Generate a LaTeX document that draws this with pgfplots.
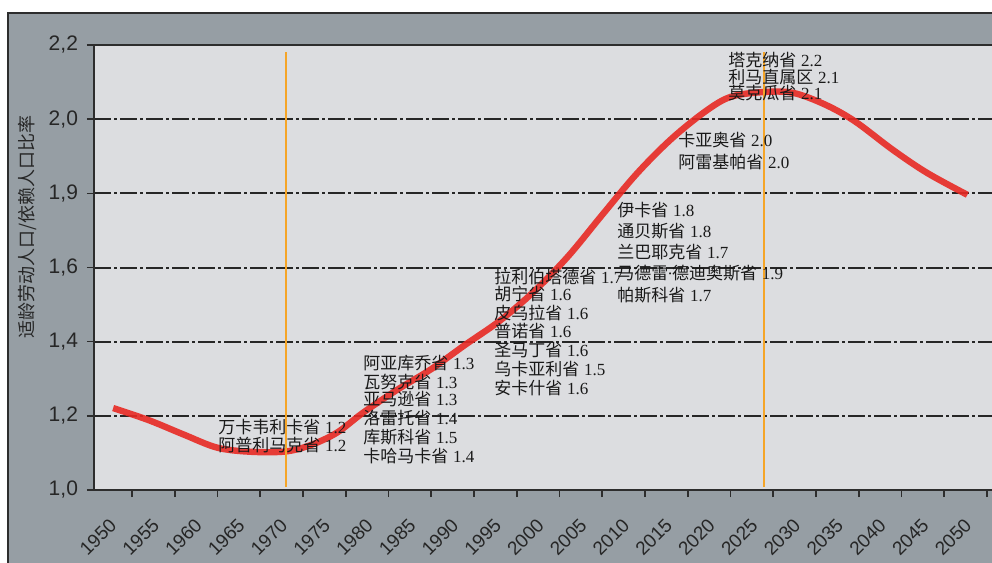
\documentclass[border=0pt]{standalone}
\usepackage{pgfplots}
\pgfplotsset{compat=1.18}
\usepackage{fontspec}
\setmainfont{Liberation Sans}
\newfontfamily\cjk{Noto Sans CJK SC}
\newfontfamily\ser{Liberation Serif}

\definecolor{panel}{RGB}{150,158,164}
\definecolor{plotbg}{RGB}{220,221,224}
\definecolor{darkline}{RGB}{45,45,45}
\definecolor{curve}{RGB}{232,42,36}
\definecolor{vline}{RGB}{245,165,40}

% one annotation line: x, y, name, value
\newcommand{\ann}[4]{\node[anchor=west, inner sep=0pt, text=black!90, font=\fontsize{8.5}{9}\selectfont]
  at (axis cs:#1,#2) {{\cjk #3}\ {\ser #4}};}

\begin{document}
\begin{tikzpicture}
\path[use as bounding box] (0,0) rectangle (496pt,281.5pt);
\fill[white] (0,0) rectangle (496pt,281.5pt);
\fill[panel] (4pt,-5pt) rectangle (502pt,275pt);
\draw[darkline, line width=1pt] (4pt,-5pt) -- (4pt,275pt) -- (502pt,275pt);

\begin{axis}[
  at={(47pt,36.5pt)}, anchor=south west,
  scale only axis, width=451pt, height=222.5pt,
  xmin=1945.56, xmax=2051.05, ymin=1.0, ymax=2.2,
  axis background/.style={fill=plotbg},
  axis line style={darkline, line width=1pt},
  xtick={1950,1955,...,2050},
  xticklabels={1950,1955,1960,1965,1970,1975,1980,1985,1990,1995,2000,2005,2010,2015,2020,2025,2030,2035,2040,2045,2050},
  ytick={1.0,1.2,1.4,1.6,1.8,2.0,2.2},
  yticklabels={{1,0},{1,2},{1,4},{1,6},{1,9},{2,0},{2,2}},
  tick align=outside, major tick length=3.5pt,
  tick style={darkline, line width=0.8pt},
  xtick pos=bottom, ytick pos=left,
  yticklabel style={font=\fontsize{10.5}{12}\selectfont, text=black!85, xshift=-1pt},
  xticklabel style={font=\fontsize{9.5}{11}\selectfont, text=black!85,
    xshift=-7pt, yshift=-10pt, rotate=45, anchor=east},
  ymajorgrids,
  major grid style={black!85, line width=1pt, dash pattern=on 8.5pt off 1.5pt on 1.5pt off 1.5pt},
  ylabel={\cjk 适龄劳动人口/依赖人口比率},
  every axis y label/.style={at={(axis description cs:-0.0735,0.591)}, rotate=90, anchor=center,
    font=\fontsize{9}{10}\selectfont, text=black!85},
  clip=false,
]
\addplot[curve, line width=3.2pt, smooth, tension=0.55, opacity=0.9] coordinates {
  (1947.8,1.221) (1952,1.188) (1956,1.150) (1960,1.114) (1964,1.103)
  (1968,1.104) (1971,1.122) (1974,1.155) (1977,1.208) (1981,1.270)
  (1985,1.326) (1989,1.392) (1993,1.456) (1997,1.535) (2001,1.630)
  (2005,1.742) (2009,1.852) (2013,1.945) (2017,2.020) (2020,2.060)
  (2023.8,2.073) (2027.3,2.071) (2031,2.040) (2034.5,1.995) (2039,1.917)
  (2043,1.855) (2047.7,1.796)
};
\addplot[vline, line width=0.8pt] coordinates {(1968.0,1.008) (1968.0,2.181)};
\addplot[vline, line width=0.8pt] coordinates {(2023.9,1.008) (2023.9,2.181)};

\ann{1960.06}{1.1699}{万卡韦利卡省}{1.2}
\ann{1960.06}{1.1214}{阿普利马克省}{1.2}

\ann{1977.02}{1.3425}{阿亚库乔省}{1.3}
\ann{1977.02}{1.2913}{瓦努克省}{1.3}
\ann{1977.02}{1.2454}{亚马逊省}{1.3}
\ann{1977.02}{1.1942}{洛雷托省}{1.4}
\ann{1977.02}{1.1429}{库斯科省}{1.5}
\ann{1977.02}{1.0917}{卡哈马卡省}{1.4}

\ann{1992.34}{1.5744}{拉利伯塔德省}{1.7}
\ann{1992.34}{1.5286}{胡宁省}{1.6}
\ann{1992.34}{1.4773}{皮乌拉省}{1.6}
\ann{1992.34}{1.4288}{普诺省}{1.6}
\ann{1992.34}{1.3776}{圣马丁省}{1.6}
\ann{1992.34}{1.3263}{乌卡亚利省}{1.5}
\ann{1992.34}{1.2751}{安卡什省}{1.6}

\ann{2006.73}{1.7551}{伊卡省}{1.8}
\ann{2006.73}{1.6985}{通贝斯省}{1.8}
\ann{2006.73}{1.6419}{兰巴耶克省}{1.7}
\ann{2006.73}{1.5852}{马德雷{\ser\kern-0.5pt·\kern-0.5pt}德迪奥斯省}{1.9}
\ann{2006.73}{1.5259}{帕斯科省}{1.7}

\ann{2013.86}{1.9439}{卡亚奥省}{2.0}
\ann{2013.86}{1.8846}{阿雷基帕省}{2.0}

\ann{2019.71}{2.1597}{塔克纳省}{2.2}
\ann{2019.71}{2.1138}{利马直属区}{2.1}
\ann{2019.71}{2.0707}{莫克瓜省}{2.1}
\end{axis}
\end{tikzpicture}
\end{document}
